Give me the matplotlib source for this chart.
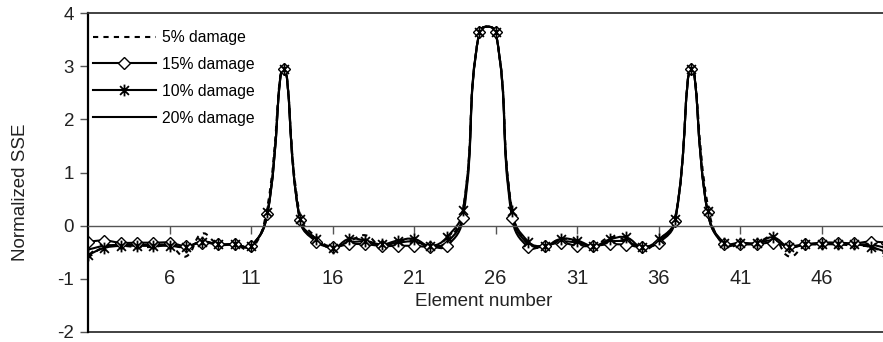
import numpy as np
import matplotlib
matplotlib.use("Agg")
import matplotlib.pyplot as plt
from matplotlib.path import Path
from matplotlib.patches import PathPatch
from matplotlib.lines import Line2D

plt.rcParams["font.family"] = ["Liberation Sans", "DejaVu Sans"]

# element numbers 1..50
elements = list(range(1, 51))

# normalized SSE, one list per damage level
sse_5 = [-0.60, -0.40, -0.38, -0.40, -0.40, -0.38, -0.58, -0.15, -0.35, -0.35,
         -0.45, 0.35, 2.95, 0.20, -0.22, -0.40, -0.30, -0.18, -0.38, -0.30,
         -0.28, -0.40, -0.30, 0.30, 3.65, 3.65, 0.30, -0.35, -0.40, -0.25,
         -0.30, -0.38, -0.22, -0.28, -0.45, -0.28, 0.10, 2.95, 0.40, -0.38,
         -0.35, -0.32, -0.22, -0.58, -0.38, -0.35, -0.35, -0.38, -0.40, -0.55]
sse_15 = [-0.30, -0.28, -0.32, -0.32, -0.32, -0.32, -0.38, -0.32, -0.35, -0.35,
          -0.38, 0.22, 2.95, 0.10, -0.30, -0.40, -0.35, -0.35, -0.38, -0.38,
          -0.38, -0.40, -0.38, 0.15, 3.65, 3.65, 0.15, -0.40, -0.38, -0.32,
          -0.38, -0.38, -0.35, -0.36, -0.40, -0.32, 0.08, 2.95, 0.25, -0.35,
          -0.35, -0.35, -0.32, -0.38, -0.35, -0.32, -0.32, -0.33, -0.30, -0.32]
sse_10 = [-0.55, -0.42, -0.38, -0.38, -0.38, -0.38, -0.40, -0.30, -0.35, -0.35,
          -0.38, 0.25, 2.95, 0.12, -0.25, -0.42, -0.25, -0.28, -0.35, -0.28,
          -0.25, -0.38, -0.22, 0.30, 3.65, 3.65, 0.27, -0.30, -0.38, -0.25,
          -0.28, -0.38, -0.26, -0.22, -0.40, -0.26, 0.12, 2.95, 0.27, -0.32,
          -0.32, -0.33, -0.22, -0.40, -0.35, -0.35, -0.35, -0.35, -0.40, -0.50]
sse_20 = [-0.45, -0.38, -0.36, -0.36, -0.36, -0.36, -0.40, -0.30, -0.36, -0.36,
          -0.38, 0.22, 2.95, 0.10, -0.28, -0.40, -0.32, -0.30, -0.36, -0.32,
          -0.30, -0.38, -0.32, 0.22, 3.65, 3.65, 0.22, -0.35, -0.38, -0.30,
          -0.32, -0.38, -0.30, -0.30, -0.40, -0.30, 0.10, 2.95, 0.25, -0.33,
          -0.33, -0.33, -0.28, -0.40, -0.36, -0.34, -0.34, -0.35, -0.36, -0.42]

x_ticks = [6, 11, 16, 21, 26, 31, 36, 41, 46]
y_ticks = [-2, -1, 0, 1, 2, 3, 4]

W, H = 883, 342
fig = plt.figure(figsize=(W / 100, H / 100), dpi=100)
ax = fig.add_axes([88 / W, 10 / H, 799 / W, 319 / H])
ax.set_xlim(1, 50)
ax.set_ylim(-2, 4)

# star marker like excel's: X with a vertical bar
star = Path([(0, -1), (0, 1), (-0.75, -0.75), (0.75, 0.75), (-0.75, 0.75), (0.75, -0.75)],
            [Path.MOVETO, Path.LINETO] * 3)


def smooth_line(ax, x, y, **kw):
    """Excel-like smoothed line: cubic bezier through every point."""
    pts = ax.transData.transform(np.column_stack([x, y]))
    n = len(pts)
    verts = [pts[0]]
    codes = [Path.MOVETO]
    s = 0.45
    for i in range(n - 1):
        p0 = pts[max(i - 1, 0)]
        p1 = pts[i]
        p2 = pts[i + 1]
        p3 = pts[min(i + 2, n - 1)]
        d01 = np.hypot(*(p1 - p0))
        d12 = np.hypot(*(p2 - p1))
        d23 = np.hypot(*(p3 - p2))
        c1 = p1 + (p2 - p0) * s * d12 / (d01 + d12)
        c2 = p2 - (p3 - p1) * s * d12 / (d12 + d23)
        verts += [c1, c2, p2]
        codes += [Path.CURVE4] * 3
    verts = ax.transData.inverted().transform(np.array(verts))
    patch = PathPatch(Path(verts, codes), facecolor="none", **kw)
    ax.add_patch(patch)


lw = 1.5
smooth_line(ax, elements, sse_5, edgecolor="black", lw=lw, linestyle=(0, (2.5, 2.5)))
smooth_line(ax, elements, sse_15, edgecolor="black", lw=lw)
smooth_line(ax, elements, sse_10, edgecolor="black", lw=lw)
smooth_line(ax, elements, sse_20, edgecolor="black", lw=lw)
ax.plot(elements, sse_15, linestyle="none", marker="D", ms=6,
        mfc="white", mec="black", mew=1.0)
ax.plot(elements, sse_10, linestyle="none", marker=star, ms=8.5,
        mec="black", mew=1.3)

# axes in excel style: category axis crossing at 0
ax.spines["bottom"].set_position(("data", 0))
ax.spines["bottom"].set_color("#555555")
ax.spines["bottom"].set_linewidth(1.0)
ax.spines["right"].set_visible(False)
ax.spines["top"].set_color("#333333")
ax.spines["top"].set_linewidth(1.3)
ax.spines["left"].set_linewidth(1.6)
ax.axhline(-2, color="#333333", lw=1.3, clip_on=False)

ax.set_xticks(x_ticks)
ax.set_xticklabels([str(t) for t in x_ticks])
ax.set_yticks(y_ticks)
ax.set_yticklabels([str(t) for t in y_ticks])
ax.tick_params(axis="x", direction="out", length=6, width=1.0, color="#555555",
               labelsize=14.5, pad=25, labelcolor="#222222")
ax.tick_params(axis="y", direction="out", length=6, width=1.0, color="#555555",
               labelsize=13.5, pad=4, labelcolor="#222222")

ax.set_xlabel("Element number", fontsize=13.5, color="#222222", va="center")
ax.xaxis.set_label_coords(484 / W, 1 - 302 / H, transform=fig.transFigure)
ax.set_ylabel("Normalized SSE", fontsize=13.5, color="#222222", va="center")
ax.yaxis.set_label_coords(21 / W, 1 - 192 / H, transform=fig.transFigure)

handles = [
    Line2D([], [], color="black", lw=lw, linestyle=(0, (2.5, 2.5))),
    Line2D([], [], color="black", lw=lw, marker="D", ms=6, mfc="white", mec="black", mew=1.0),
    Line2D([], [], color="black", lw=lw, marker=star, ms=8.5, mec="black", mew=1.3),
    Line2D([], [], color="black", lw=lw),
]
labels = ["5% damage", "15% damage", "10% damage", "20% damage"]
ax.legend(handles, labels, loc="upper left", bbox_to_anchor=(93 / W, 1 - 30 / H),
          bbox_transform=fig.transFigure, frameon=False, fontsize=11.3,
          handlelength=4.0, handletextpad=0.4, labelspacing=0.76, numpoints=1,
          borderpad=0, borderaxespad=0)

fig.savefig("out.png", dpi=100)
